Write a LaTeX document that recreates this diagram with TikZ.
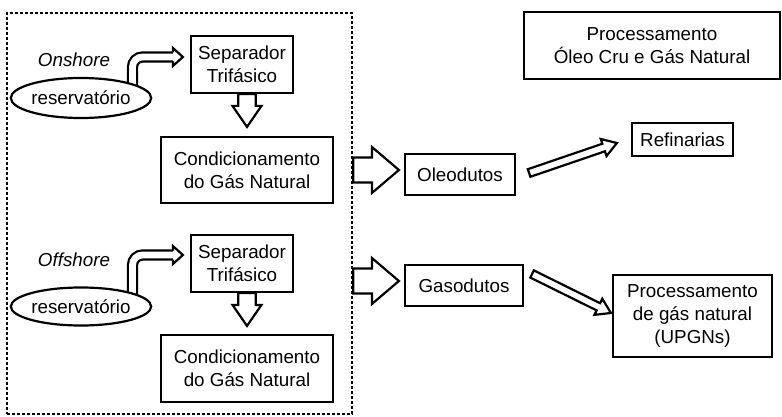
\documentclass[tikz,border=0pt]{standalone}
\usepackage{fontspec}
\setmainfont{Liberation Sans}
\usetikzlibrary{calc,shapes.geometric,backgrounds}
\tikzset{
 txt/.style={font=\fontsize{18.8}{23}\selectfont},
 box/.style={txt, draw, line width=2.2pt, inner sep=0pt, align=center, fill=white},
 resv/.style={txt, ellipse, draw, line width=2.2pt, inner sep=0pt, fill=white},
 lbl/.style={font=\fontsize{18.8}{23}\selectfont\itshape},
 arrowline/.style={draw=black, fill=white, line width=2.2pt, line join=miter},
 framebox/.style={draw, line width=2.6pt, dash pattern=on 2.6pt off 2.4pt, inner sep=0pt},
 bentshaft/.style={line width=2.2pt, double=white, double distance=6.8pt, rounded corners=10pt},
}
% block arrow: tail #1, tip #2, shaft half-width #3, head half-width #4, head length #5
\newcommand\barrow[5]{%
 \coordinate (ba-c) at ($(#2)!#5!(#1)$);
 \filldraw[arrowline] ($(#1)!#3!90:(#2)$) -- ($(ba-c)!#3!-90:(#1)$) -- ($(ba-c)!#4!-90:(#1)$) -- (#2)
   -- ($(ba-c)!#4!90:(#1)$) -- ($(ba-c)!#3!90:(#1)$) -- ($(#1)!#3!-90:(#2)$) -- cycle;
}
% bent arrow from reservoir to separator: start #1, neck #2, tip #3
\newcommand\bentarrow[3]{%
 \draw[bentshaft] (#1) |- ($(#2)+(0.8,0)$);
 \fill[white] ($(#2)+(0,-9)$) -- (#3) -- ($(#2)+(0,9)$) -- cycle;
 \draw[line width=2.2pt, line join=miter] ($(#2)+(0,-4.5)$) -- ($(#2)+(0,-9)$) -- (#3) -- ($(#2)+(0,9)$) -- ($(#2)+(0,4.5)$);
}
\begin{document}
\begin{tikzpicture}[x=1pt,y=-1pt]
\useasboundingbox (0,0) rectangle (782,417);
\node[framebox, minimum width=345pt, minimum height=401pt] (frame) at (179.5,213.5) {};

% onshore
\node[lbl] (on) at (74,60) {Onshore};
\node[resv, minimum width=132pt, minimum height=40pt] (r1) at (81,98) {reservatório};
\node[box, minimum width=102pt, minimum height=57pt] (sep1) at (242,64.5) {Separador\\Trifásico};
\node[box, minimum width=172pt, minimum height=66pt] (cond1) at (247,170) {Condicionamento\\do Gás Natural};

% offshore
\node[lbl] (off) at (74,260) {Offshore};
\node[resv, minimum width=132pt, minimum height=38pt] (r2) at (81,306.5) {reservatório};
\node[box, minimum width=102pt, minimum height=57pt] (sep2) at (242,263.5) {Separador\\Trifásico};
\node[box, minimum width=172pt, minimum height=67pt] (cond2) at (247,368.5) {Condicionamento\\do Gás Natural};

% right side
\node[box, minimum width=256pt, minimum height=67pt] (proc) at (652,45.5) {Processamento\\Óleo Cru e Gás Natural};
\node[box, minimum width=110pt, minimum height=41pt] (ole) at (460,174.5) {Oleodutos};
\node[box, minimum width=101pt, minimum height=33pt] (ref) at (682.5,139.5) {Refinarias};
\node[box, minimum width=118pt, minimum height=41pt] (gas) at (464,285.5) {Gasodutos};
\node[box, minimum width=159pt, minimum height=82pt] (upgn) at (692.5,316) {Processamento\\de gás natural\\(UPGNs)};

% bent arrows (behind the reservoirs)
\begin{pgfonlayer}{background}
\coordinate (b1s) at ($(r1.center)+(51.5,0)$);
\coordinate (b1n) at ($(sep1.west)+(-17,-7.5)$);
\coordinate (b1t) at ($(sep1.west)+(-7,-7.5)$);
\bentarrow{b1s}{b1n}{b1t}
\coordinate (b2s) at ($(r2.center)+(51.5,0)$);
\coordinate (b2n) at ($(sep2.west)+(-17,-8.5)$);
\coordinate (b2t) at ($(sep2.west)+(-7,-8.5)$);
\bentarrow{b2s}{b2n}{b2t}
\end{pgfonlayer}

% down arrows
\coordinate (d1a) at (cond1.north |- sep1.south);
\coordinate (d1b) at ($(cond1.north)+(0,-9)$);
\barrow{d1a}{d1b}{8.7pt}{14.5pt}{21pt}
\coordinate (d2a) at (cond2.north |- sep2.south);
\coordinate (d2b) at ($(cond2.north)+(0,-8)$);
\barrow{d2a}{d2b}{8.7pt}{14.5pt}{21pt}

% big arrows out of the frame
\coordinate (g1a) at (frame.east |- cond1.east);
\coordinate (g1b) at ($(ole.west |- cond1.east)+(-5,0)$);
\barrow{g1a}{g1b}{12.5pt}{23pt}{27pt}
\coordinate (g2a) at ($(frame.east |- gas.west)+(0,-4.5)$);
\coordinate (g2b) at ($(gas.west)+(-5,-4.5)$);
\barrow{g2a}{g2b}{12.5pt}{23pt}{27pt}

% thin arrows
\coordinate (t1a) at ($(ole.east)+(13,-1.5)$);
\coordinate (t1b) at ($(ref.west)+(-14,3.5)$);
\barrow{t1a}{t1b}{4pt}{9pt}{14pt}
\coordinate (t2a) at ($(gas.east)+(8,-11.5)$);
\coordinate (t2b) at ($(upgn.west)+(-1,-3)$);
\barrow{t2a}{t2b}{4pt}{9pt}{14pt}
\end{tikzpicture}
\end{document}
